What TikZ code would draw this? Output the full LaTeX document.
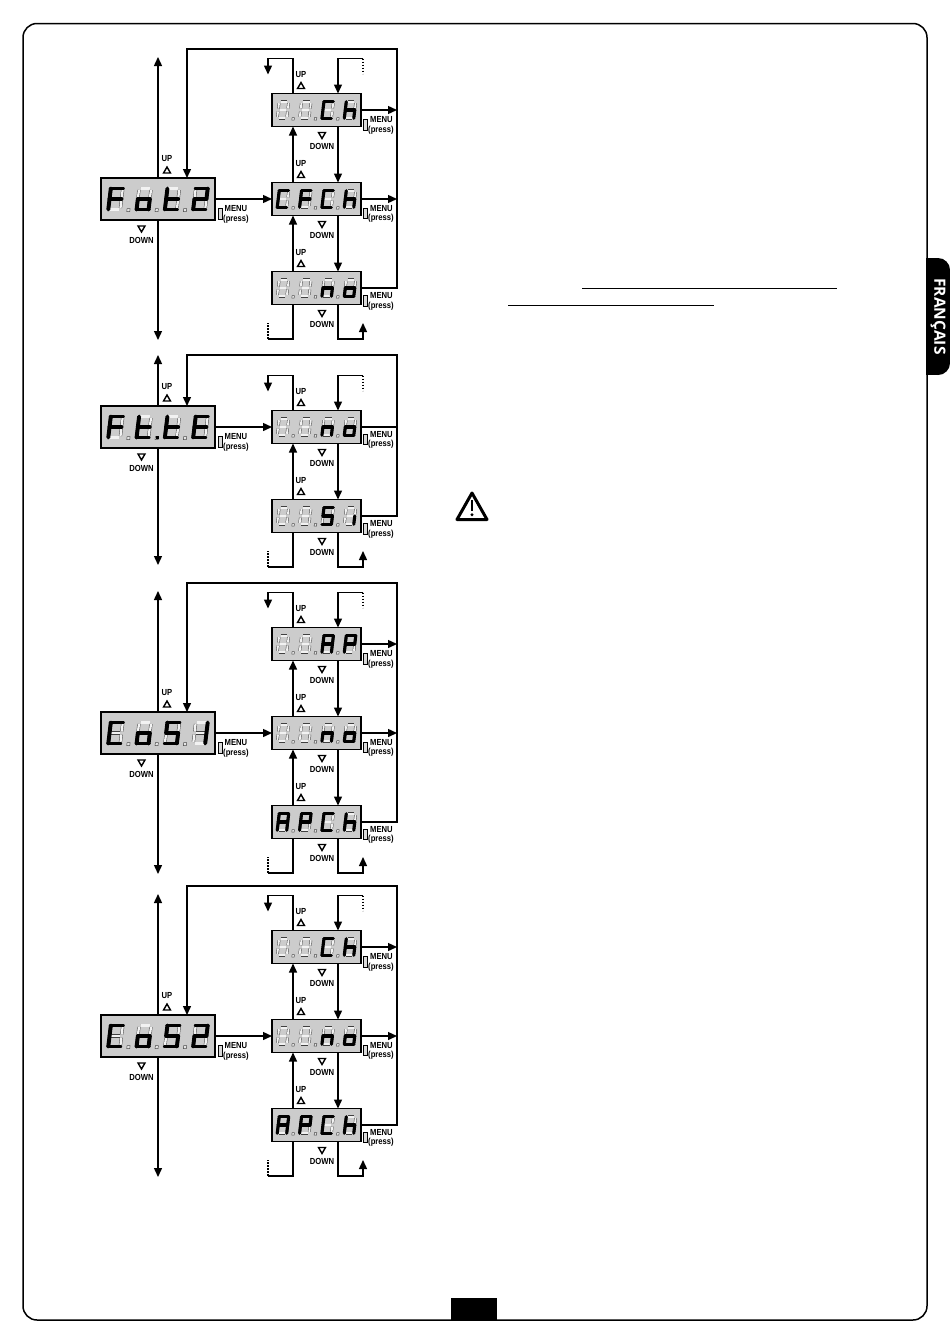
\documentclass[tikz,border=0pt]{standalone}
\usepackage{fontspec}
\usetikzlibrary{arrows.meta, shapes.geometric}
\newfontfamily\lblfont[FakeStretch=0.87]{Liberation Sans}
\newfontfamily\tabfont{Open Sans}

% segments lit for each character of the display
\newcommand{\glyph}[2]{\expandafter\def\csname glyph#1\endcsname{#2}}
\glyph{x}{z}
\glyph{F}{a,f,g,e}
\glyph{o}{c,d,e,g}
\glyph{t}{f,g,e,d}
\glyph{2}{a,b,g,e,d}
\glyph{1}{b,c}
\glyph{C}{a,f,e,d}
\glyph{E}{a,f,g,e,d}
\glyph{S}{a,f,g,c,d}
\glyph{h}{f,e,g,c}
\glyph{n}{e,g,c}
\glyph{i}{c}
\glyph{A}{a,b,c,e,f,g}
\glyph{P}{a,b,e,f,g}

\tikzset{
  seg a/.style={insert path={(-6,-10.5) -- (6,-10.5)}},
  seg b/.style={insert path={(6,-10.5) -- (6,0)}},
  seg c/.style={insert path={(6,0) -- (6,10.5)}},
  seg d/.style={insert path={(6,10.5) -- (-6,10.5)}},
  seg e/.style={insert path={(-6,10.5) -- (-6,0)}},
  seg f/.style={insert path={(-6,0) -- (-6,-10.5)}},
  seg g/.style={insert path={(-6,0) -- (6,0)}},
  seg z/.style={}
}

% four characters on a display node
\newcommand{\segrow}[6]{
  \foreach \k/\ch in {-1.5/#3,-0.5/#4,0.5/#5,1.5/#6} {
    \begin{scope}[shift={(#1)},scale=#2,xslant=.12,shift={(\k*28.3,0)}]
      \foreach \s in {a,b,c,d,e,f,g}
        \draw[line width=.45,black!75,double=white!95!black,double distance=2.3pt*#2,shorten >=1.5,shorten <=1.5,seg \s];
      \edef\lit{\csname glyph\ch\endcsname}
      \foreach \s in \lit
        \draw[line width=3.9pt*#2,line cap=round,seg \s];
      \ifdim\k pt<1pt
        \draw[line width=.5,black!70,fill=white!90!black] (12.7,9.7) rectangle (15.7,12.7);
      \fi
    \end{scope}
  }
}

\newcommand{\mainbox}[6]{
  \node[main] (#1) at (158,#2) {};
  \segrow{#1}{1}{#3}{#4}{#5}{#6}
  \node[tag] (#1up) at ([xshift=9,yshift=19]#1.north) {UP};
  \node[upmark] (#1ut) at ([xshift=9,yshift=7]#1.north) {};
  \node[downmark] (#1dt) at ([xshift=-16.5,yshift=-8]#1.south) {};
  \node[tag] (#1down) at ([xshift=-16.5,yshift=-20]#1.south) {DOWN};
  \node[press] (#1led) at ([xshift=5.5,yshift=-15]#1.east) {};
  \node[tag] (#1menu) at ([xshift=21,yshift=-10]#1.east) {MENU};
  \node[tag] (#1pr) at ([xshift=21,yshift=-20]#1.east) {(press)};
}

\newcommand{\subbox}[7][10]{
  \node[sub] (#2) at (316.5,#3) {};
  \segrow{#2}{.79}{#4}{#5}{#6}{#7}
  \node[tag] (#2up) at ([xshift=-15.5,yshift=19]#2.north) {UP};
  \node[upmark] (#2ut) at ([xshift=-15.5,yshift=7]#2.north) {};
  \node[downmark] (#2dt) at ([xshift=5.5,yshift=-8]#2.south) {};
  \node[tag] (#2down) at ([xshift=5.5,yshift=-19.5]#2.south) {DOWN};
  \node[press] (#2led) at ([xshift=4.5,yshift=-#1-5]#2.east) {};
  \node[tag] (#2menu) at ([xshift=20.5,yshift=-#1]#2.east) {MENU};
  \node[tag] (#2pr) at ([xshift=20,yshift=-#1-10]#2.east) {(press)};
}

% stubs above the first and below the last sub display
\newcommand{\toploop}[1]{
  \draw[wire,-{Triangle[length=9,width=8]}] ([xshift=-23.5]#1.north) -- ++(0,-35) -- ++(-25,0) -- ++(0,16);
  \coordinate (#1stub) at ([xshift=46.5,yshift=35]#1.north);
  \draw[wire,-{Triangle[length=9,width=8]}] (#1stub) -- ([xshift=21.5,yshift=35]#1.north) -- ([xshift=21.5]#1.north);
  \draw[wire,dash pattern=on 1.6 off 1.4] (#1stub) -- ++(0,15);
}
\newcommand{\botloop}[1]{
  \coordinate (#1stub) at ([xshift=-48.5,yshift=-34.5]#1.south);
  \draw[wire] ([xshift=-23.5]#1.south) -- ([xshift=-23.5,yshift=-34.5]#1.south) -- (#1stub);
  \draw[wire,dash pattern=on 1.6 off 1.4] (#1stub) -- ++(0,-16);
  \draw[wire,-{Triangle[length=9,width=8]}] ([xshift=21.5]#1.south) -- ++(0,34.5) -- ++(25,0) -- ++(0,-16);
}
\newcommand{\downlink}[2]{
  \draw[wire,-{Triangle[length=9,width=8]}] ([xshift=-23.5]#2.north) -- ([xshift=-23.5]#1.south);
  \draw[wire,-{Triangle[length=9,width=8]}] ([xshift=21.5]#1.south) -- ([xshift=21.5]#2.north);
}
% main display: axis, return line from the last sub display
\newcommand{\mainwires}[5]{
  \coordinate (#1up end) at (158,#3);
  \coordinate (#1dn end) at (158,#4);
  \coordinate (#1ret) at (187,#5);
  \coordinate (#1cor) at (397,#5);
  \draw[wire,-{Triangle[length=9,width=8]}] (#1.north -| #1up end) -- (#1up end);
  \draw[wire,-{Triangle[length=9,width=8]}] (#1.south -| #1dn end) -- (#1dn end);
  \draw[wire,-{Triangle[length=9,width=8]}] (#2.east) -- (#2.east -| #1cor) -- (#1cor) -- (#1ret) -- (#1.north -| #1ret);
}

\begin{document}
\begin{tikzpicture}[x=1pt,y=-1pt,
    main/.style = {draw, line width=1.2, fill=black!20, minimum width=114, minimum height=42, inner sep=0, outer sep=0},
    sub/.style = {draw, line width=1.2, fill=black!20, minimum width=89, minimum height=33, inner sep=0, outer sep=0},
    tag/.style = {font=\lblfont\bfseries\fontsize{8.8}{8.8}\selectfont, inner sep=0, outer sep=0},
    upmark/.style = {draw, line width=1.4, regular polygon, regular polygon sides=3, minimum size=8, inner sep=0},
    downmark/.style = {upmark, shape border rotate=180},
    press/.style = {draw, line width=1, fill=white!85!black, minimum width=3.4, minimum height=10.5, inner sep=0},
    wire/.style = {line width=1.4}]
  \useasboundingbox (0,0) rectangle (950,1344);

  % page frame, tab, page number block
  \draw[line width=1.5, rounded corners=14] (23,23.5) rectangle (927,1320);
  \fill (451,1298) rectangle (497,1320);
  \fill[rounded corners=12] (926,258) rectangle (950,375);
  \fill (926,258) rectangle (938,375);
  \node[rotate=-90, text=white, inner sep=0, font=\tabfont\bfseries\fontsize{15.5}{15.5}\selectfont] (tab) at (938,316.5) {FRANÇAIS};

  % underlines and warning sign
  \draw[line width=1] (582,288) -- (837,288);
  \draw[line width=1] (508,305.7) -- (714,305.7);
  \draw[line width=3, line join=round] (472,493) -- (487,519.5) -- (457,519.5) -- cycle;
  \draw[line width=2.6] (472,500) -- (472,511);
  \fill (472,514.7) circle (1.6);

  % Fot2
  \mainbox{fot}{199}{F}{o}{t}{2}
  \subbox{fota}{110}{x}{x}{C}{h}
  \subbox[9.5]{fotb}{199}{C}{F}{C}{h}
  \subbox[8]{fotc}{288}{x}{x}{n}{o}
  \mainwires{fot}{fotc}{57}{340}{49}
  \toploop{fota}
  \botloop{fotc}
  \downlink{fota}{fotb}
  \downlink{fotb}{fotc}
  \draw[wire,-{Triangle[length=9,width=8]}] (fot.east) -- (fotb.west);
  \draw[wire,-{Triangle[length=9,width=8]}] (fota.east) -- (fota.east -| fotcor);
  \draw[wire,-{Triangle[length=9,width=8]}] (fotb.east) -- (fotb.east -| fotcor);

  % Ft.tE
  \mainbox{fte}{427}{F}{t}{t}{E}
  \fill ([shift={(-2,8.7)}]fte.center) rectangle +(3,3);
  \subbox[7.5]{ftea}{427}{x}{x}{n}{o}
  \subbox[8]{fteb}{516}{x}{x}{S}{i}
  \mainwires{fte}{fteb}{355}{565}{355}
  \toploop{ftea}
  \botloop{fteb}
  \downlink{ftea}{fteb}
  \draw[wire,-{Triangle[length=9,width=8]}] (fte.east) -- (ftea.west);
  \draw[wire] (ftea.east) -- (ftea.east -| ftecor);

  % CoS1
  \mainbox{csa}{733}{C}{o}{S}{1}
  \subbox{csaa}{644}{x}{x}{A}{P}
  \subbox[9.5]{csab}{733}{x}{x}{n}{o}
  \subbox[7.5]{csac}{822}{A}{P}{C}{h}
  \mainwires{csa}{csac}{591}{874}{583}
  \toploop{csaa}
  \botloop{csac}
  \downlink{csaa}{csab}
  \downlink{csab}{csac}
  \draw[wire,-{Triangle[length=9,width=8]}] (csa.east) -- (csab.west);
  \draw[wire,-{Triangle[length=9,width=8]}] (csaa.east) -- (csaa.east -| csacor);
  \draw[wire,-{Triangle[length=9,width=8]}] (csab.east) -- (csab.east -| csacor);

  % CoS2
  \mainbox{csb}{1036}{C}{o}{S}{2}
  \subbox{csba}{947}{x}{x}{C}{h}
  \subbox[9.5]{csbb}{1036}{x}{x}{n}{o}
  \subbox[7.5]{csbc}{1125}{A}{P}{C}{h}
  \mainwires{csb}{csbc}{894}{1177}{886}
  \toploop{csba}
  \botloop{csbc}
  \downlink{csba}{csbb}
  \downlink{csbb}{csbc}
  \draw[wire,-{Triangle[length=9,width=8]}] (csb.east) -- (csbb.west);
  \draw[wire,-{Triangle[length=9,width=8]}] (csba.east) -- (csba.east -| csbcor);
  \draw[wire,-{Triangle[length=9,width=8]}] (csbb.east) -- (csbb.east -| csbcor);
\end{tikzpicture}
\end{document}
